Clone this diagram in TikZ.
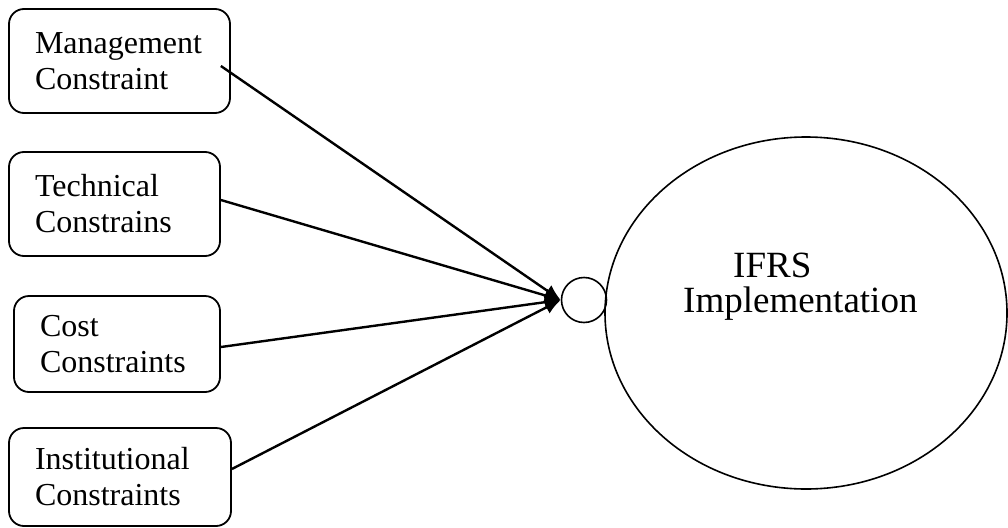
\documentclass[tikz,border=0pt]{standalone}
\usepackage{fontspec}
\setmainfont{Liberation Serif}
\usetikzlibrary{arrows.meta,shapes.geometric}

\tikzset{
  factor/.style={draw, line width=1.8pt, rounded corners=15pt, align=left,
    inner xsep=26pt, inner ysep=0pt,
    font=\fontsize{32pt}{36pt}\selectfont},
  link/.style={line width=2.4pt, -{Latex[length=16pt,width=14pt]}},
  junction/.style={draw, circle, line width=1.6pt, minimum size=45pt, inner sep=0pt},
  outcome/.style={draw, ellipse, line width=1.6pt, inner sep=0pt},
  outtext/.style={anchor=base west, inner sep=0pt,
    font=\fontsize{37pt}{40pt}\selectfont}
}

\begin{document}
\begin{tikzpicture}[x=1pt, y=-1pt]
  \useasboundingbox (0,0) rectangle (1008,527);

  % constraint boxes
  \node[factor, text width=169pt, minimum height=104pt] (b1) at (119.5,61)
    {Management\\Constraint};
  \node[factor, text width=159pt, minimum height=104pt] (b2) at (114.5,204)
    {Technical\\Constrains};
  \node[factor, text width=154pt, minimum height=96pt] (b3) at (117,344)
    {Cost\\Constraints};
  \node[factor, text width=170pt, minimum height=98pt] (b4) at (120,477)
    {Institutional\\Constraints};

  % outcome
  \node[outcome, minimum width=402pt, minimum height=352pt] (e) at (806,313) {};
  \node[junction] (c) at (584,300) {};
  \node[outtext] (t1) at (733,277) {IFRS};
  \node[outtext] (t2) at (683,312) {Implementation};

  % connectors
  \draw[link] ([xshift=-10pt,yshift=-5pt]b1.east) -- (c.west);
  \draw[link] ([yshift=4pt]b2.east) -- (c.west);
  \draw[link] ([yshift=-3pt]b3.east) -- (c.west);
  \draw[link] ([yshift=8pt]b4.east) -- (c.west);
\end{tikzpicture}
\end{document}
